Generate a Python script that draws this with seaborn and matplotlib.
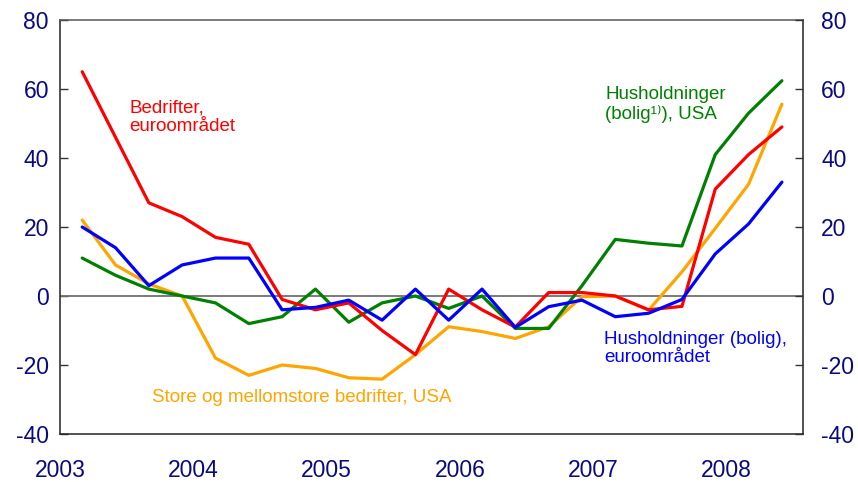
import matplotlib
matplotlib.use("Agg")
import matplotlib.pyplot as plt
import seaborn as sns
import numpy as np
import pandas as pd

quarters = [f"{y}Q{q}" for y in range(2003, 2009) for q in range(1, 5)][:22]
bedrifter_euro = [65, 46, 27, 23, 17, 15, -1, -4, -2, -10, -17, 2, -4, -9, 1, 1, 0, -4, -3, 31, 41, 49]
hush_usa = [11, 6, 2, 0, -2, -8, -6, 2, -7.6, -2, 0, -3.6, 0, -9.4, -9.4, 3, 16.4, 15.3, 14.5, 41, 53, 62.4]
hush_euro = [20, 14, 3, 9, 11, 11, -4, -3.3, -1.2, -7, 2, -7, 2, -9.1, -3.1, -1.2, -6, -5, -1, 12.2, 20.9, 33]
store_usa = [22, 9, 3.5, 0, -18, -23, -20, -21, -23.7, -24.1, -17, -8.9, -10.3, -12.3, -8.9, -0.2, 0, -4.1, 7, 19.6, 32.4, 55.6]
year_ticks = [2003, 2004, 2005, 2006, 2007, 2008]
y_ticks = [-40, -20, 0, 20, 40, 60, 80]

series = {
    "Bedrifter, euroområdet": bedrifter_euro,
    "Husholdninger (bolig), USA": hush_usa,
    "Husholdninger (bolig), euroområdet": hush_euro,
    "Store og mellomstore bedrifter, USA": store_usa,
}
colors = {
    "Bedrifter, euroområdet": "#FF0000",
    "Husholdninger (bolig), USA": "#008000",
    "Husholdninger (bolig), euroområdet": "#0000FF",
    "Store og mellomstore bedrifter, USA": "#FFA500",
}

# quarter position in fractional years
xpos = [int(q[:4]) + (int(q[-1]) - 1) * 0.25 + 1/6 for q in quarters]
rows = []
for name, vals in series.items():
    for x, v in zip(xpos, vals):
        rows.append({"x": x, "value": v, "series": name})
df = pd.DataFrame(rows)

sns.set_theme(style="white")
plt.rcParams["font.family"] = ["Liberation Sans", "DejaVu Sans"]
plt.rcParams["axes.unicode_minus"] = False

fig = plt.figure(figsize=(8.58, 4.82), dpi=100)
ax = fig.add_axes([60/858, 1 - 434/482, (803-60)/858, (434-20)/482])

ax.axhline(0, color="#707070", lw=1.3, zorder=1)
order = ["Store og mellomstore bedrifter, USA", "Husholdninger (bolig), USA",
         "Bedrifter, euroområdet", "Husholdninger (bolig), euroområdet"]
sns.lineplot(data=df, x="x", y="value", hue="series", hue_order=order,
             palette=colors, lw=2.3, ax=ax, legend=False, sort=False)

ax.set_xlim(2003, 2008.575)
ax.set_ylim(-40, 80)
ax.set_xticks(year_ticks)
ax.set_xticklabels([str(y) for y in year_ticks])
ax.set_yticks(y_ticks)
ax.set_xlabel("")
ax.set_ylabel("")
navy = "#0A0A80"
ax.tick_params(axis="both", direction="in", length=6, width=1, color="#333333",
               labelcolor=navy, labelsize=16.5)
ax.tick_params(axis="x", pad=18)
ax.tick_params(axis="y", pad=8)
for s in ax.spines.values():
    s.set_color("#222222")
    s.set_linewidth(1.1)
ax.spines["top"].set_color("#555555")

ax2 = ax.twinx()
ax2.set_ylim(-40, 80)
ax2.set_yticks(y_ticks)
ax2.tick_params(axis="y", direction="in", length=6, width=1, color="#333333",
                labelcolor=navy, labelsize=16.5, pad=13)
for s in ax2.spines.values():
    s.set_visible(False)
ax2.grid(False)
ax.grid(False)

fs = 13.5
ax.text(2003.52, 57.0, "Bedrifter,\neuroområdet", color="#FF0000", fontsize=fs,
        va="top", ha="left", linespacing=1.15)
ax.text(2007.09, 61.0, "Husholdninger\n(bolig¹⁾), USA", color="#008000", fontsize=fs,
        va="top", ha="left", linespacing=1.15)
ax.text(2007.08, -10.0, "Husholdninger (bolig),\neuroområdet", color="#0000FF", fontsize=fs,
        va="top", ha="left", linespacing=1.15)
ax.text(2003.69, -27.0, "Store og mellomstore bedrifter, USA", color="#FFA500", fontsize=fs,
        va="top", ha="left")

fig.savefig("out.png", dpi=100)
